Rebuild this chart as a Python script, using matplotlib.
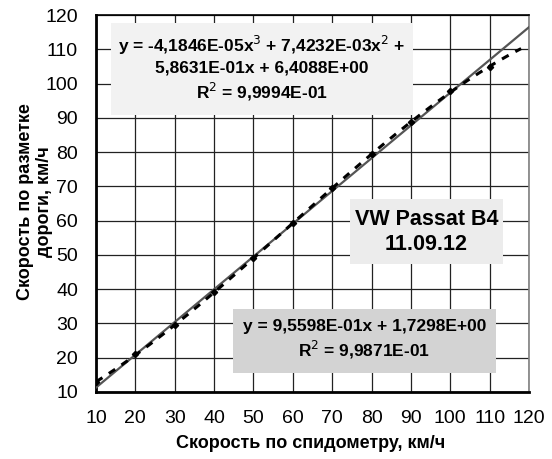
import numpy as np
import matplotlib
matplotlib.use("Agg")
import matplotlib.pyplot as plt

plt.rcParams['font.family'] = ['Liberation Sans', 'DejaVu Sans']

# measured points: speedometer vs road marks
speedometer = [10, 20, 30, 40, 50, 60, 70, 80, 90, 100, 110]
road_marks = [13.0, 21.0, 29.5, 39.2, 49.0, 59.3, 69.4, 79.3, 88.8, 97.8, 104.8]

# trend coefficients (Excel), poly trend drawn forward to 118
poly_coef = [-4.1846e-05, 7.4232e-03, 5.8631e-01, 6.4088e+00]
lin_coef = [9.5598e-01, 1.7298e+00]
poly_end = 118

poly_text = "y = -4,1846E-05x$^3$ + 7,4232E-03x$^2$ +\n5,8631E-01x + 6,4088E+00\nR$^2$ = 9,9994E-01"
lin_text = "y = 9,5598E-01x + 1,7298E+00\nR$^2$ = 9,9871E-01"
car_text = "VW Passat B4\n11.09.12"

W, H = 552, 459
fig = plt.figure(figsize=(W / 100, H / 100), dpi=100)
ax = fig.add_axes([96 / W, 1 - 392 / H, 433 / W, 377 / H])

ax.set_xlim(10, 120)
ax.set_ylim(10, 120)
ax.set_xticks(range(10, 121, 10))
ax.set_yticks(range(10, 121, 10))
ax.grid(True, color='#222222', lw=0.9)
ax.set_axisbelow(True)
ax.tick_params(axis='y', length=0, labelsize=14, pad=13)
ax.tick_params(axis='x', length=0, labelsize=14, pad=13)

for s in ['left', 'bottom']:
    ax.spines[s].set_linewidth(2)
    ax.spines[s].set_color('black')
ax.spines['top'].set_color('black')
ax.spines['top'].set_linewidth(1.2)
ax.spines['right'].set_color('#808080')
ax.spines['right'].set_linewidth(1.2)

xl = np.linspace(10, 120, 50)
ax.plot(xl, np.polyval(lin_coef, xl), color='#555555', lw=1.6, zorder=3)
xp = np.linspace(speedometer[0], poly_end, 200)
ax.plot(xp, np.polyval(poly_coef, xp), color='black', lw=2.2, ls=(0, (2.5, 2.5)), zorder=4)
ax.plot(speedometer, road_marks, ls='none', marker='D', ms=3.2, color='black', zorder=5)

fig.text(311 / W, 1 - 443 / H, "Скорость по спидометру, км/ч", fontsize=13, fontweight='bold',
         ha='center', va='center')
fig.text(35 / W, 1 - 202 / H, "Скорость по разметке\nдороги, км/ч", fontsize=13,
         fontweight='bold', ha='center', va='center', rotation=90, linespacing=1.1)

def box(x0, y0, x1, y1, color):
    r = plt.Rectangle((x0 / W, 1 - y1 / H), (x1 - x0) / W, (y1 - y0) / H,
                      transform=fig.transFigure, facecolor=color, edgecolor='none', zorder=6)
    ax.add_patch(r)
    r.set_clip_on(False)

box(111, 23, 413, 115, '#f2f2f2')
ax.text((111 + 413) / 2 / W, 1 - 68 / H, poly_text, transform=fig.transFigure,
        ha='center', va='center', fontsize=12.5, fontweight='bold', linespacing=1.3, zorder=7)

box(350, 199, 503, 264, '#ececec')
ax.text((350 + 503) / 2 / W, 1 - 232 / H, car_text, transform=fig.transFigure,
        ha='center', va='center', fontsize=15.5, fontweight='bold', linespacing=1.3, zorder=7)

box(233, 309, 496, 373, '#d3d3d3')
ax.text((233 + 496) / 2 / W, 1 - 340 / H, lin_text, transform=fig.transFigure,
        ha='center', va='center', fontsize=12.5, fontweight='bold', linespacing=1.3, zorder=7)

fig.savefig("out.png", dpi=100)
